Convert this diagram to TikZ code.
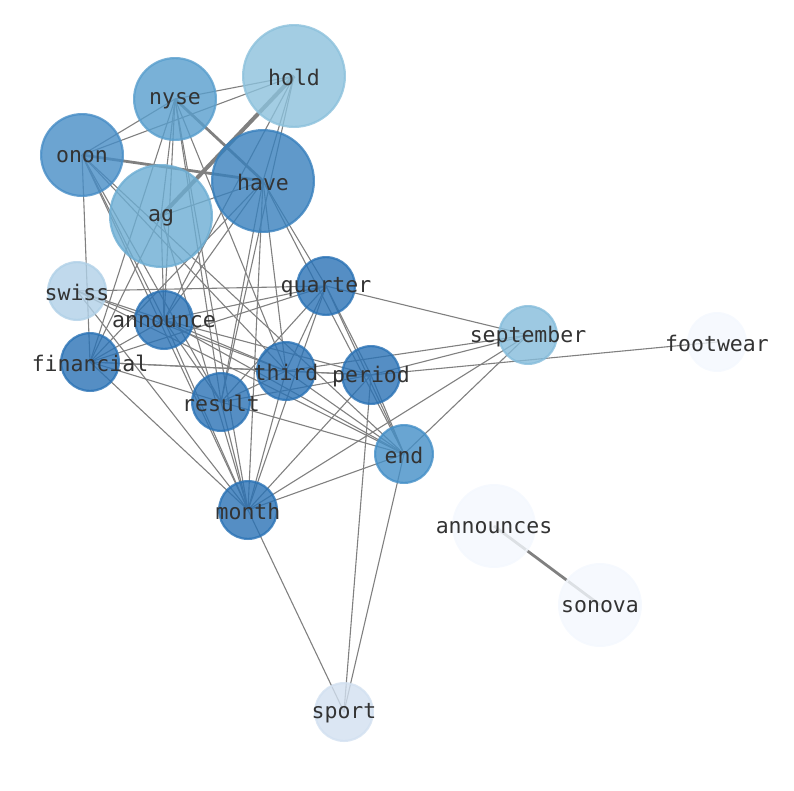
\documentclass[tikz,border=0pt]{standalone}
\usepackage{fontspec}
\setmonofont{DejaVu Sans Mono}
\usepackage{xcolor}
\usepackage{tikz}
\usetikzlibrary{positioning}

% node colours (drawn at opacity 0.8)
\definecolor{cdark}{HTML}{2A72B5}
\definecolor{chave}{HTML}{3880BD}
\definecolor{conon}{HTML}{478DC6}
\definecolor{cend}{HTML}{448FC7}
\definecolor{cnyse}{HTML}{589ECD}
\definecolor{cag}{HTML}{6CADD3}
\definecolor{csep}{HTML}{85BCDB}
\definecolor{chold}{HTML}{8CC1DC}
\definecolor{cswiss}{HTML}{B0D0E7}
\definecolor{csport}{HTML}{D2E0F0}
\definecolor{clight}{HTML}{F4F8FE}
\definecolor{linkgray}{HTML}{808080}
\definecolor{wordgray}{HTML}{333333}

\pgfdeclarelayer{links}
\pgfsetlayers{links,main}

\tikzset{
    word/.style={circle, draw=#1, fill=#1, fill opacity=0.8, draw opacity=0.8,
        line width=2.2pt, inner sep=0pt},
    wordtext/.style={text=wordgray, inner sep=0pt,
        font=\ttfamily\fontsize{21.5}{22}\selectfont},
    link/.style={draw=linkgray, line width=1.1pt},
    heavylink/.style={draw=linkgray, line width=#1},
}

\begin{document}
\begin{tikzpicture}[x=1pt, y=-1pt]
    \useasboundingbox (0,0) rectangle (794,790);

    % Word nodes
    \foreach \n/\x/\y/\r/\c in {hold/294/76/52/chold, nyse/175/99/42/cnyse,
        onon/82/155/42/conon, have/263/181/52/chave, ag/161/216/52/cag,
        swiss/77/291/30/cswiss, quarter/326/286/30/cdark, announce/164/320/30/cdark,
        financial/90/362/30/cdark, third/286/371/30/cdark, period/371/375/30/cdark,
        result/221/402/30/cdark, september/528/335/30/csep, footwear/717/342/30/clight,
        end/404/454/30/cend, month/248/510/30/cdark, announces/494/526/42/clight,
        sonova/600/605/42/clight, sport/344/712/30/csport} {
        \node[word=\c, minimum size=2*\r pt-2.2pt] (\n) at (\x,\y) {};
    }

    % Links (under the nodes)
    \begin{pgfonlayer}{links}
    \foreach \a/\b in {hold/nyse, hold/onon, hold/have, hold/announce, hold/result,
        nyse/onon, nyse/ag, nyse/financial, nyse/announce, nyse/result, nyse/month, nyse/third,
        onon/financial, onon/announce, onon/result, onon/month, onon/third, onon/end,
        have/ag, have/financial, have/announce, have/quarter, have/third, have/result,
        have/month, have/end,
        ag/financial, ag/announce, ag/month,
        swiss/quarter, swiss/announce, swiss/third, swiss/month, swiss/end,
        quarter/announce, quarter/financial, quarter/result, quarter/third, quarter/month,
        quarter/end, quarter/september, quarter/period,
        announce/financial, announce/third, announce/period, announce/result,
        announce/month, announce/end,
        financial/third, financial/period, financial/result, financial/month,
        third/period, third/result, third/month, third/end, third/september,
        period/result, period/september, period/footwear, period/month, period/end,
        period/sport,
        result/month, result/end,
        september/month, september/end,
        end/month, end/sport,
        month/sport} {
        \draw[link] (\a.center) -- (\b.center);
    }
    % Heavier links
    \foreach \a/\b/\w in {hold/ag/4pt, nyse/have/2.8pt, onon/have/2.8pt,
        announces/sonova/2.8pt} {
        \draw[heavylink=\w] (\a.center) -- (\b.center);
    }
    \end{pgfonlayer}

    % Labels
    \foreach \n in {hold, nyse, onon, have, ag, swiss, quarter, announce, financial,
        third, period, result, september, footwear, end, month, announces, sonova, sport} {
        \node[wordtext, yshift=-1.5pt] (\n-label) at (\n.center) {\n};
    }
\end{tikzpicture}
\end{document}
